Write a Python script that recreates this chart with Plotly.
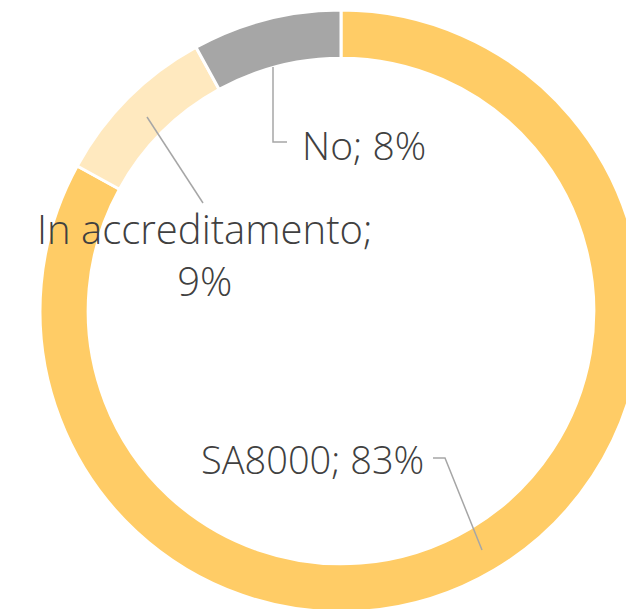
import plotly.graph_objects as go

labels = ["SA8000", "In accreditamento", "No"]
values = [83, 9, 8]
colors = ["#FFCC66", "#FFE9BF", "#A6A6A6"]
label_text = ["SA8000; 83%", "In accreditamento;<br>9%", "No; 8%"]

W, H = 642, 612
ML, MT = 40, 10
PW, PH = W - ML, H - MT


def px(x):
    return (x - ML) / PW


def py(y):
    return 1 - (y - MT) / PH


fig = go.Figure(
    go.Pie(
        labels=labels,
        values=values,
        hole=0.84,
        sort=False,
        direction="clockwise",
        rotation=0,
        textinfo="none",
        hoverinfo="label+percent",
        marker=dict(colors=colors, line=dict(color="white", width=3)),
        showlegend=False,
    )
)

label_pos = [(312, 459), (205, 254), (364, 144)]
label_size = [38, 40, 39]
for t, (x, y), s in zip(label_text, label_pos, label_size):
    fig.add_annotation(
        x=px(x), y=py(y), xref="paper", yref="paper", text=t,
        showarrow=False, xanchor="center", yanchor="middle",
        font=dict(family="Open Sans, Lato, sans-serif", size=s,
                  color="#404040", weight=300),
    )

leaders = [
    [(433, 458), (445, 458), (482, 550)],
    [(203, 203), (147, 117)],
    [(287, 142), (273, 142), (273, 67)],
]
for pts in leaders:
    path = "M " + " L ".join(f"{px(x)},{py(y)}" for x, y in pts)
    fig.add_shape(type="path", path=path, xref="paper", yref="paper",
                  line=dict(color="#A6A6A6", width=1.5))

fig.update_layout(
    width=W, height=H,
    margin=dict(l=ML, r=0, t=MT, b=0),
    paper_bgcolor="white", plot_bgcolor="white",
)

fig.write_html(
    "out.html",
    config={"displayModeBar": False},
    post_script="document.body.style.margin='0';"
                "document.body.style.overflow='hidden';"
                "document.documentElement.style.overflow='hidden';",
)
